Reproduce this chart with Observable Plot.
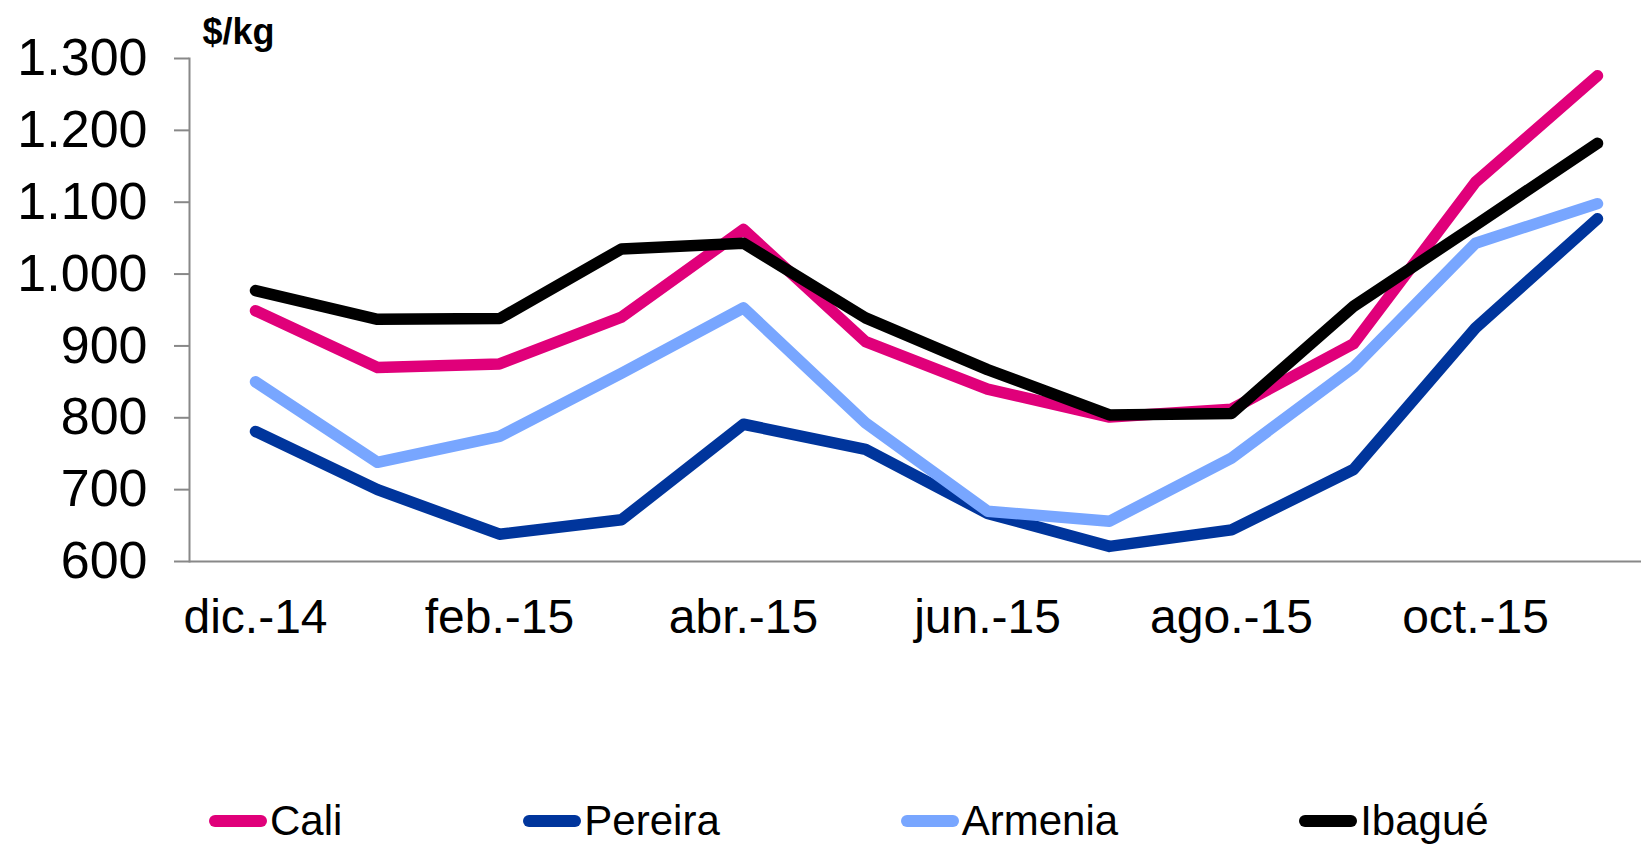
<!DOCTYPE html>
<html>
<head>
<meta charset="utf-8">
<script src="https://cdn.jsdelivr.net/npm/d3@7"></script>
<script src="https://cdn.jsdelivr.net/npm/@observablehq/plot@0.6"></script>
<style>
  html, body { margin: 0; padding: 0; background: #fff; }
  body { width: 1641px; height: 844px; overflow: hidden; font-family: "Liberation Sans", Arial, sans-serif; }
  #legend { display: flex; align-items: center; gap: 0; margin-left: 209px; margin-top: 140px; font-size: 42px; line-height: 1; color: #000; }
  .item { display: flex; align-items: center; margin-right: 181px; }
  .sw { width: 58px; height: 12px; border-radius: 6px; margin-right: 3px; }
</style>
</head>
<body>
<div id="chart"></div>
<div id="legend"></div>
<script>
const months = ["dic.-14","ene.-15","feb.-15","mar.-15","abr.-15","may.-15","jun.-15","jul.-15","ago.-15","sep.-15","oct.-15","nov.-15"];
const tickLabels = ["dic.-14","feb.-15","abr.-15","jun.-15","ago.-15","oct.-15"];
const yTicks = [600,700,800,900,1000,1100,1200,1300];
const seriesNames = ["Cali","Pereira","Armenia","Ibagué"];
const seriesColors = ["#E0007A","#00359C","#78A6FF","#000000"];
const cali    = [949, 870, 875, 940, 1062, 906, 840, 801, 812, 903, 1128, 1276];
const pereira = [781, 700, 638, 658,  791, 756, 667, 621, 644, 728,  925, 1077];
const armenia = [850, 738, 774, 862,  953, 793, 670, 656, 744, 870, 1043, 1098];
const ibague  = [977, 937, 938, 1035, 1043, 939, 867, 804, 806, 955, 1068, 1182];
const unit = "$/kg";

const seriesValues = [cali, pereira, armenia, ibague];
const rows = [];
seriesNames.forEach((name, i) => {
  months.forEach((m, j) => rows.push({series: name, month: m, value: seriesValues[i][j]}));
});

const fmt = d3.formatLocale({decimal: ",", thousands: ".", grouping: [3], currency: ["$", ""]}).format(",");

const chart = Plot.plot({
  width: 1641,
  height: 660,
  marginLeft: 189,
  marginRight: 0,
  marginTop: 58,
  marginBottom: 99,
  style: {fontFamily: "'Liberation Sans', Arial, sans-serif", background: "white", color: "#000", overflow: "visible"},
  x: {type: "point", domain: months, range: [189, 1662], padding: 0.5},
  y: {domain: [600, 1300]},
  color: {domain: seriesNames, range: seriesColors},
  marks: [
    Plot.axisY({ticks: yTicks, tickFormat: fmt, tickSize: 15, tickPadding: 27, fontSize: 52, stroke: "#888", strokeWidth: 2, label: null}),
    Plot.axisX({ticks: tickLabels, tickSize: 0, tickPadding: 37, fontSize: 48, label: null}),
    Plot.frame({anchor: "left", stroke: "#888", strokeWidth: 2}),
    Plot.ruleY([600], {stroke: "#888", strokeWidth: 2}),
    Plot.lineY(rows, {x: "month", y: "value", z: "series", stroke: "series", strokeWidth: 11.5, strokeLinecap: "round", strokeLinejoin: "round"}),
    Plot.text([unit], {frameAnchor: "top-left", dx: 13, dy: -15, lineAnchor: "bottom", textAnchor: "start", fontSize: 36, fontWeight: "bold", fill: "#000"})
  ]
});
document.getElementById("chart").appendChild(chart);

const legend = document.getElementById("legend");
seriesNames.forEach((name, i) => {
  const it = document.createElement("div");
  it.className = "item";
  const sw = document.createElement("div");
  sw.className = "sw";
  sw.style.background = seriesColors[i];
  const tx = document.createElement("span");
  tx.textContent = name;
  it.appendChild(sw);
  it.appendChild(tx);
  legend.appendChild(it);
});
</script>
</body>
</html>
